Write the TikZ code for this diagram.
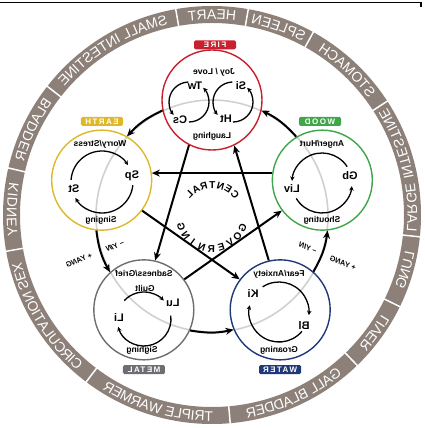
\documentclass[tikz,border=0pt]{standalone}
\usepackage{fontspec}
\setmainfont{Liberation Sans}
\usetikzlibrary{decorations.text,arrows.meta}
\definecolor{ringc}{RGB}{140,128,121}
\definecolor{firec}{RGB}{200,32,46}
\definecolor{earthc}{RGB}{222,184,40}
\definecolor{woodc}{RGB}{64,166,74}
\definecolor{metalc}{RGB}{110,110,114}
\definecolor{waterc}{RGB}{30,56,122}
\definecolor{guidec}{RGB}{208,208,208}
\newcommand\RingFont{\fontsize{14}{14}\selectfont}
\newcommand\RingLabel[4]{\path[decorate,decoration={text along path,text align=center,text color=white,text={|\RingFont|#4}}] (#1:#3) arc[start angle=#1,end angle=#2,radius=#3];}
\newfontfamily\TagFont[LetterSpace=18]{Liberation Sans}
\tikzset{
  elem/.style={circle,draw=#1,line width=1.4pt,minimum size=100pt,inner sep=0pt},
  tag/.style={fill=#1,rounded corners=1.5pt,minimum width=42pt,minimum height=9pt,inner sep=0pt,text=white,font=\TagFont\bfseries\fontsize{8}{8}\selectfont},
  mood/.style={font=\bfseries\fontsize{8.5}{9}\selectfont,inner sep=0pt},
  organ/.style={font=\bfseries\fontsize{11}{11}\selectfont,inner sep=0pt},
  looparr/.style={line width=1.3pt,-{Stealth[length=4.5pt,width=4.5pt]}},
  gen/.style={line width=2pt,-{Stealth[length=8pt,width=7pt]}},
  ctrl/.style={line width=2pt,-{Stealth[length=8pt,width=7pt]}},
  yy/.style={font=\bfseries\itshape\fontsize{7.5}{8}\selectfont,inner sep=0pt},
  ringsep/.style={white,line width=1.5pt},
  cg/.style={font=\bfseries\fontsize{10}{10}\selectfont,inner sep=0pt},
}
\begin{document}
\begin{tikzpicture}[x=1pt,y=1pt]
\useasboundingbox (-212,-212) rectangle (213,216);
\draw[line width=1.2pt] (-212,213.5) -- (209,213.5) -- (209,209);
\begin{scope}[transform canvas={xscale=-1}]
  % outer ring
  \begin{scope}[shift={(0,1)}]
    \fill[ringc,even odd rule] (0,0) circle[radius=209] (0,0) circle[radius=192];
    \foreach \a in {80,38,13,-10,-53,-95,-134,-154,-174,-213,-241,-260}
      \draw[ringsep] (\a:191) -- (\a:210);
    \RingLabel{100}{80}{195.5}{HEART}
    \RingLabel{80}{38}{195.5}{SMALL INTESTINE}
    \RingLabel{38}{13}{195.5}{BLADDER}
    \RingLabel{13}{-10}{195.5}{KIDNEY}
    \RingLabel{-53}{-10}{206}{CIRCULATION SEX}
    \RingLabel{-95}{-53}{206}{TRIPLE WARMER}
    \RingLabel{-134}{-95}{206}{GALL BLADDER}
    \RingLabel{-154}{-134}{206}{LIVER}
    \RingLabel{-174}{-154}{206}{LUNG}
    \RingLabel{186}{147}{195.5}{LARGE INTESTINE}
    \RingLabel{147}{119}{195.5}{STOMACH}
    \RingLabel{119}{100}{195.5}{SPLEEN}
  \end{scope}
  % guide circle
  \draw[guidec,line width=1.6pt] (0,0) circle[radius=116];
  % elements
  \node[elem=firec] (fire) at (90:116) {};
  \node[elem=earthc] (earth) at (18:116) {};
  \node[elem=metalc] (metal) at (-54:116) {};
  \node[elem=waterc] (water) at (-126:116) {};
  \node[elem=woodc] (wood) at (162:116) {};
  \node[tag=firec] (firetag) at (-3,171) {FIRE};
  \node[tag=earthc] (earthtag) at (110,94.5) {EARTH};
  \node[tag=woodc] (woodtag) at (-108,94.5) {WOOD};
  \node[tag=metalc] (metaltag) at (68,-153.5) {METAL};
  \node[tag=waterc] (watertag) at (-68,-153.5) {WATER};
  % generating cycle
  \draw[gen] (fire.-12.5) to[bend left=11] (earth.120.5);
  \draw[gen] (earth.-84.5) to[bend left=11] (metal.48.5);
  \draw[gen] (metal.-156.5) to[bend left=11] (water.-23.5);
  \draw[gen] (water.131.5) to[bend left=11] (wood.264.5);
  \draw[gen] (wood.59.5) to[bend left=11] (fire.192.5);
  % controlling star
  \draw[ctrl] (fire.-63.4) -- (metal.103);
  \draw[ctrl] (water.77) -- (fire.-116.6);
  \draw[ctrl] (wood.8) -- (earth.172);
  \draw[ctrl] (earth.217) -- (water.37);
  \draw[ctrl] (metal.143) -- (wood.-37);
  % yin yang labels
  \node[yy,rotate=-22] (yinE) at (97,-30) {– YIN};
  \node[yy,rotate=-22] (yangE) at (133,-44) {+ YANG};
  \node[yy,rotate=22] (yinW) at (-96,-32) {– YIN};
  \node[yy,rotate=22] (yangW) at (-131,-47) {+ YANG};
  % central governing
  \foreach \ch [count=\i] in {C,E,N,T,R,A,L} {
    \pgfmathsetmacro\ang{137-15.5*(\i-1)}
    \node[cg,rotate=\ang-90,anchor=base] (cen\i) at (\ang:28) {\ch};
  }
  \foreach \ch [count=\i] in {G,O,V,E,R,N,I,N,G} {
    \pgfmathsetmacro\ang{-159+17.5*(\i-1)}
    \node[cg,rotate=\ang+90,anchor=base] (gov\i) at (\ang:36) {\ch};
  }
  % FIRE interior
  \node[mood] (joy) at (-2,144) {Joy / Love};
  \node[mood] (laugh) at (0,80) {Laughing};
  \coordinate (fA) at (23,114);
  \draw[looparr] ([shift={(88:20)}]fA) arc[start angle=88,end angle=-40,radius=20];
  \draw[looparr] ([shift={(270:20)}]fA) arc[start angle=270,end angle=135,radius=20];
  \node[organ] (tw) at (17,130) {Tw};
  \node[organ] (cs) at (32,96) {Cs};
  \coordinate (fB) at (-21,114);
  \draw[looparr] ([shift={(88:20)}]fB) arc[start angle=88,end angle=-40,radius=20];
  \draw[looparr] ([shift={(270:20)}]fB) arc[start angle=270,end angle=135,radius=20];
  \node[organ] (si) at (-29,130) {Si};
  \node[organ] (ht) at (-14,97) {Ht};
  % EARTH interior
  \node[mood] (worry) at (112,72) {Worry/Stress};
  \node[mood] (sing) at (111,-4) {Singing};
  \coordinate (eL) at (110,34);
  \draw[looparr] ([shift={(4:31)}]eL) arc[start angle=4,end angle=147,radius=31];
  \draw[looparr] ([shift={(186:31)}]eL) arc[start angle=186,end angle=329,radius=31];
  \node[organ] (sp) at (80,40) {Sp};
  \node[organ] (st) at (138,27) {St};
  % WOOD interior
  \node[mood] (anger) at (-110,72) {Anger/Hurt};
  \node[mood] (shout) at (-110,-4) {Shouting};
  \coordinate (wL) at (-110,33);
  \draw[looparr] ([shift={(147:30)}]wL) arc[start angle=147,end angle=4,radius=30];
  \draw[looparr] ([shift={(329:30)}]wL) arc[start angle=329,end angle=186,radius=30];
  \node[organ] (gb) at (-138,40) {Gb};
  \node[organ] (liv) at (-80,27) {Liv};
  % METAL interior
  \node[mood] (sad) at (68,-58) {Sadness/Grief};
  \node[mood] (guilt) at (67,-72) {Guilt};
  \node[mood] (sigh) at (70,-134) {Sighing};
  \coordinate (mL) at (68,-103);
  \draw[looparr] ([shift={(43:27)}]mL) arc[start angle=43,end angle=137,radius=27];
  \draw[looparr] ([shift={(173:27)}]mL) arc[start angle=173,end angle=343,radius=27];
  \node[organ] (lu) at (39,-87) {Lu};
  \node[organ] (li) at (93,-102) {Li};
  % WATER interior
  \node[mood] (fear) at (-67,-58) {Fear/Anxiety};
  \node[mood] (groan) at (-67,-134) {Groaning};
  \coordinate (waL) at (-67,-96);
  \draw[looparr] ([shift={(57:30)}]waL) arc[start angle=57,end angle=186,radius=30];
  \draw[looparr] ([shift={(220:30)}]waL) arc[start angle=220,end angle=373,radius=30];
  \node[organ] (ki) at (-41,-78) {Ki};
  \node[organ] (bl) at (-92,-110) {Bl};
\end{scope}
\end{tikzpicture}
\end{document}
